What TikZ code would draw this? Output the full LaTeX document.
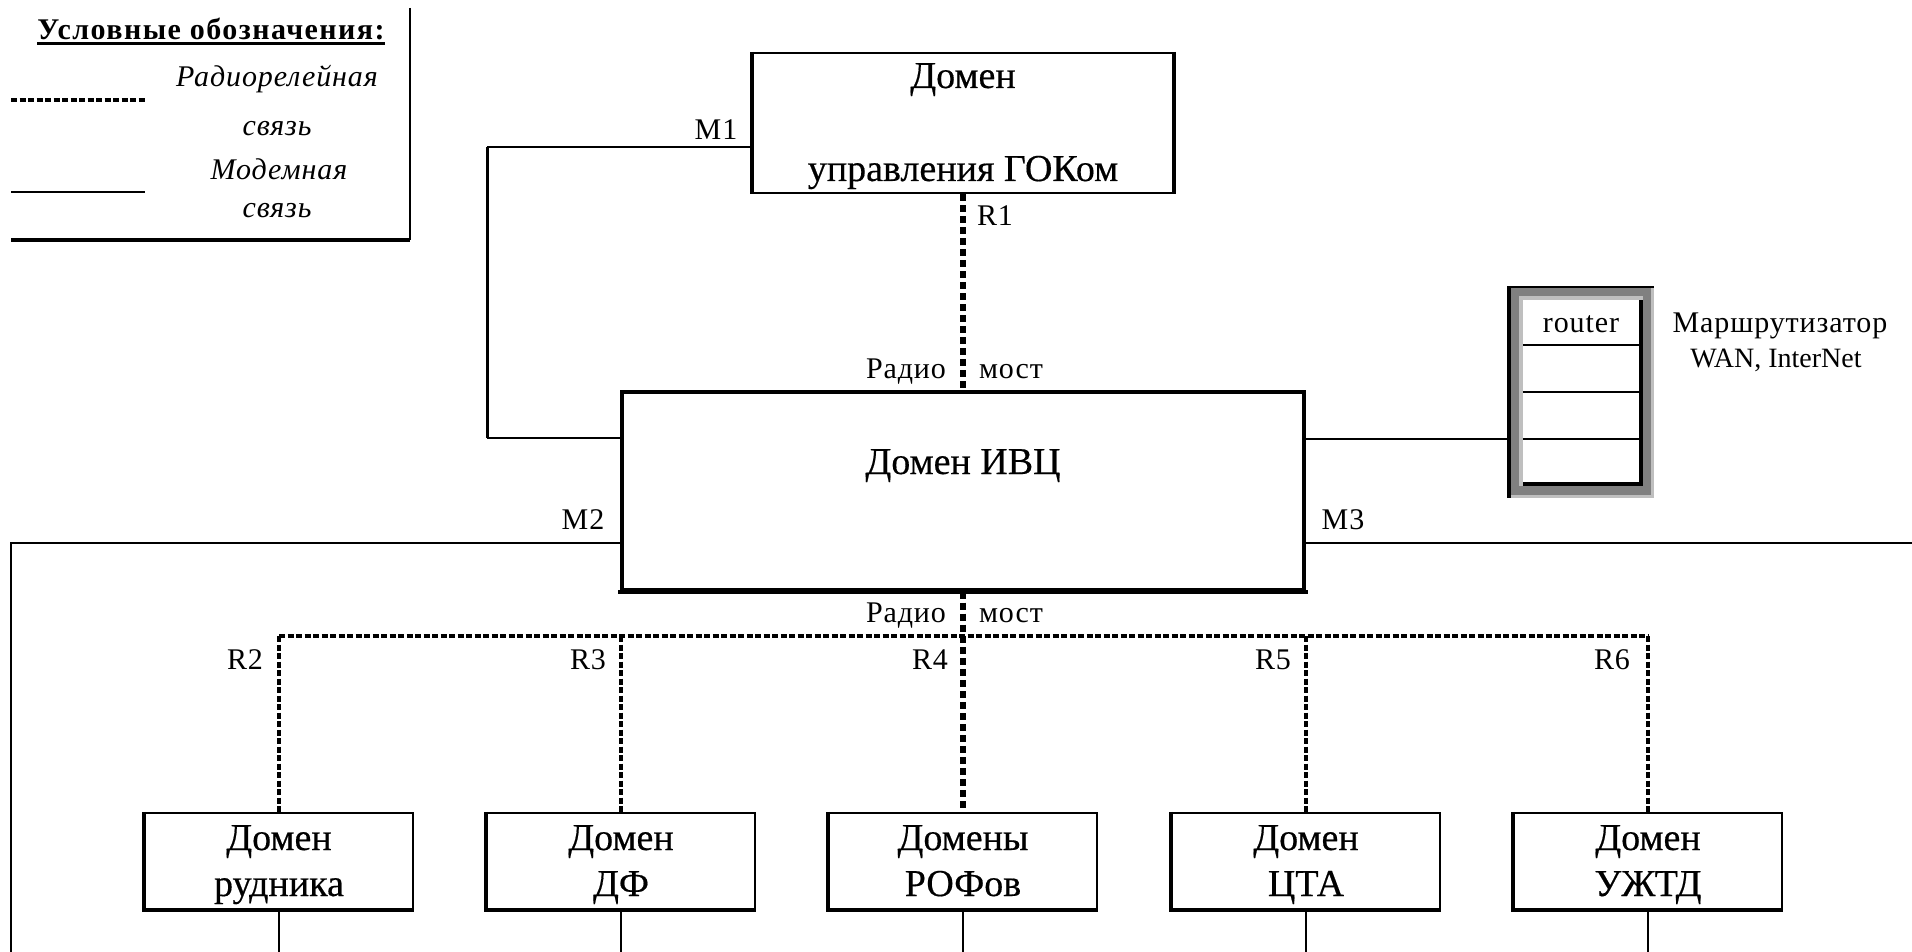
\documentclass[tikz,border=0pt]{standalone}
\usepackage{fontspec}
\setmainfont{Liberation Serif}
\newfontfamily\lblfont[LetterSpace=3]{Liberation Serif}
\newfontfamily\titlefont[LetterSpace=4.8]{Liberation Serif}
\newfontfamily\boxfont[FakeBold=0.4]{Liberation Serif}
\usetikzlibrary{calc}
\tikzset{
  x=1pt,y=-1pt,
  box/.style={draw=black,fill=white,line width=2.4pt,inner sep=0pt,align=center},
  lbl/.style={inner sep=0pt,text height=24pt,text depth=5pt,font=\lblfont\fontsize{30}{30}\selectfont},
  lgi/.style={inner sep=0pt,text height=24pt,text depth=5pt,font=\lblfont\itshape\fontsize{30}{30}\selectfont},
  boxtxt/.style={inner sep=0pt,text height=30pt,text depth=8pt,font=\boxfont\fontsize{38}{38}\selectfont},
  modem/.style={draw=black,line width=1.8pt},
  modemb/.style={draw=black,line width=3pt},
  radiothick/.style={draw=black,line width=5.5pt,dash pattern=on 7pt off 4pt},
  radiothin/.style={draw=black,line width=3.5pt,dash pattern=on 6pt off 2.5pt},
  sideline/.style={draw=black,line width=3.6pt,line join=miter},
}
\begin{document}
\begin{tikzpicture}
\useasboundingbox (0,0) rectangle (1912,952);
% coordinates
\coordinate (m1) at (487,147);
\coordinate (ivcl) at (487,438);
\coordinate (m2) at (11,543);
\coordinate (m2e) at (11,952);
\coordinate (m3) at (1912,543);
\coordinate (busl) at (279,636);
\coordinate (busr) at (1648,636);
\coordinate (busm) at (963,636);
\foreach \n/\x in {a/279,b/621,c/963,d/1306,e/1648}{\coordinate (end\n) at (\x,952);}
% legend
\coordinate (lgtr) at (410,8);
\coordinate (lgbr) at (410,240);
\coordinate (lgbl) at (11,240);
\coordinate (lr1) at (11,100);
\coordinate (lr2) at (145,100);
\coordinate (lm1) at (11,192);
\coordinate (lm2) at (145,192);
\draw[draw=black,line width=2.4pt] (lgtr) -- (lgbr);
\draw[draw=black,line width=3.5pt] (lgbl) -- (lgbr);
\draw[radiothin] (lr1) -- (lr2);
\draw[modem] (lm1) -- (lm2);
\node[inner sep=0pt,text height=24pt,text depth=5pt,font=\titlefont\bfseries\fontsize{30}{30}\selectfont] (title) at (211,30) {Условные обозначения:};
\draw[draw=black,line width=2.4pt] ($(title.south west)+(0,-1)$) -- ($(title.south east)+(0,-1)$);
\node[lgi] (l1) at (277,77) {Радиорелейная};
\node[lgi] (l2) at (277,126) {связь};
\node[lgi] (l3) at (279,170) {Модемная};
\node[lgi] (l4) at (277,208) {связь};
% boxes
\node[box,minimum width=420pt,minimum height=140pt] (top) at (963,123) {};
\node[boxtxt] (top1) at (963,77) {Домен};
\node[boxtxt] (top2) at (963,170) {управления ГОКом};
\node[box,line width=3.4pt,minimum width=682pt,minimum height=198pt] (ivc) at (963,491) {};
\node[boxtxt] (ivct) at (963,463) {Домен ИВЦ};
\foreach \n/\x/\ta/\tb in {a/279/Домен/рудника,b/621/Домен/ДФ,c/963/Домены/РОФов,d/1306/Домен/ЦТА,e/1648/Домен/УЖТД}{
  \node[box,minimum width=268pt,minimum height=96pt] (d\n) at (\x,861) {};
  \node[boxtxt] (d\n t) at (\x,839) {\ta};
  \node[boxtxt] (d\n b) at (\x,885) {\tb};
  \draw[sideline] (d\n.north west) -- (d\n.south west) -- (d\n.south east);
  \draw[modem] (d\n.south) -- (end\n);
}
\draw[draw=black,line width=3.6pt] (top.north west)--(top.south west);
\draw[draw=black,line width=3.6pt] (top.north east)--(top.south east);
\draw[draw=black,line width=4.4pt,line cap=rect] (ivc.south west)--(ivc.south east);
% router
\fill[black] (1507,286) rectangle (1654,498);
\fill[black!25] (1511,288) rectangle (1654,498);
\fill[black!50] (1511,288) rectangle (1651,495);
\fill[black!25] (1519,296) rectangle (1643,486);
\fill[black] (1523,300) rectangle (1643,486);
\node[draw=none,fill=white,inner sep=0pt,minimum width=116pt,minimum height=182pt] (rt) at (1581,391) {};
\coordinate (r1) at (0,345);
\coordinate (r2) at (0,392);
\coordinate (r3) at (0,439);
\foreach \c in {r1,r2,r3}{\draw[modem] (rt.west |- \c) -- (rt.east |- \c);}
\node[lbl] (rtxt) at (1581,323) {router};
\node[lbl] (rl1) at (1780,323) {Маршрутизатор};
\node[lbl,font=\fontsize{28}{28}\selectfont] (rl2) at (1776,358) {WAN, InterNet};
\coordinate (rtout) at (1507,439);
\draw[modem] (ivc.east |- rtout) -- (rtout);
% connectors
\draw[modem] (top.west |- m1) -- (m1);
\draw[modemb] (m1) -- (ivcl);
\draw[modem] (ivcl) -- (ivc.west |- ivcl);
\draw[modem] (ivc.west |- m2) -- (m2) -- (m2e);
\draw[modem] (ivc.east |- m3) -- (m3);
\draw[radiothick] (top.south) -- (ivc.north);
\draw[radiothick] (ivc.south) -- (busm);
\draw[radiothick] (busm) -- (dc.north);
\draw[radiothin] (busl) -- (busr);
\draw[radiothin] (busl) -- (da.north);
\draw[radiothin] (db.north |- busl) -- (db.north);
\draw[radiothin] (dd.north |- busl) -- (dd.north);
\draw[radiothin] (busr) -- (de.north);
% labels
\node[lbl] (lm1t) at (716,130) {M1};
\node[lbl] (lm2t) at (583,520) {M2};
\node[lbl] (lm3t) at (1343,520) {M3};
\node[lbl] (lr1t) at (995,216) {R1};
\node[lbl] (lr2t) at (245,660) {R2};
\node[lbl] (lr3t) at (588,660) {R3};
\node[lbl] (lr4t) at (930,660) {R4};
\node[lbl] (lr5t) at (1273,660) {R5};
\node[lbl] (lr6t) at (1612,660) {R6};
\node[lbl] (ra1) at (906,369) {Радио};
\node[lbl] (mo1) at (1011,369) {мост};
\node[lbl] (ra2) at (906,613) {Радио};
\node[lbl] (mo2) at (1011,613) {мост};
\end{tikzpicture}
\end{document}
